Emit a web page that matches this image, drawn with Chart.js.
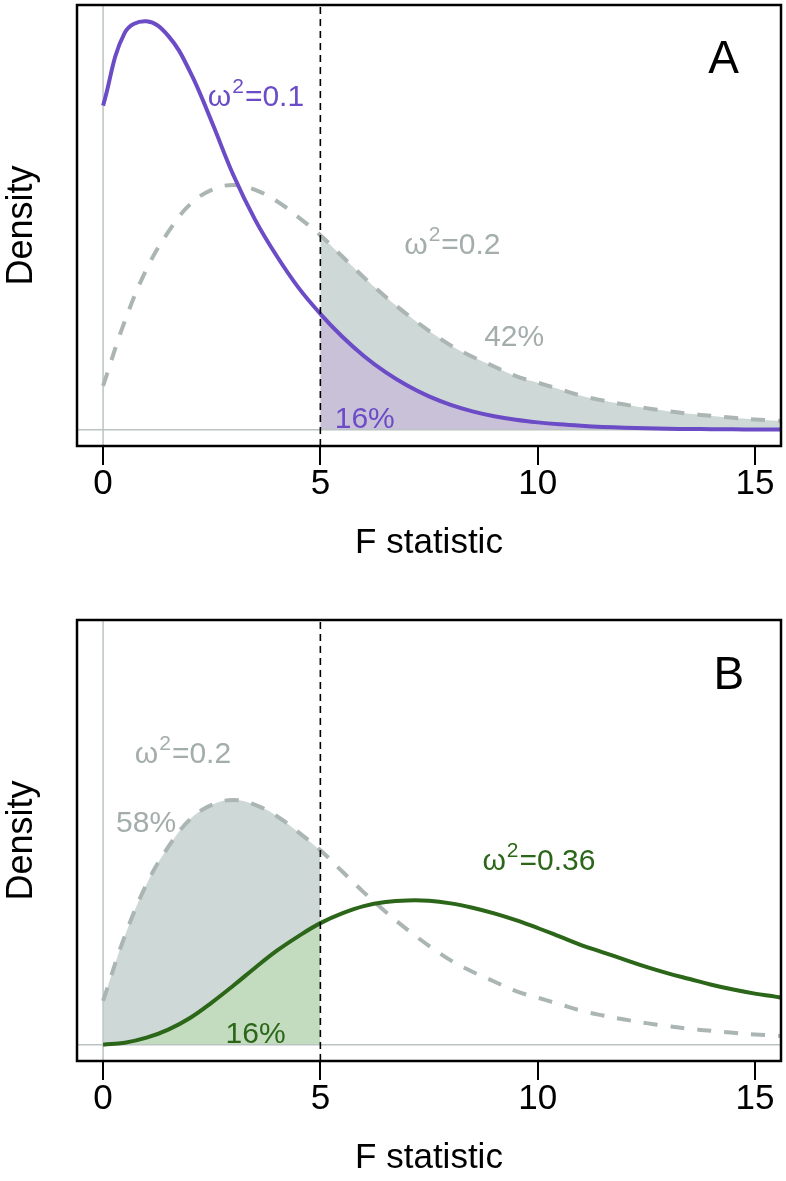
<!DOCTYPE html>
<html>
<head>
<meta charset="utf-8">
<script src="https://cdn.jsdelivr.net/npm/chart.js@4.4.1/dist/chart.umd.min.js"></script>
<style>
  body { margin: 0; background: #fff; }
  canvas { display: block; }
</style>
</head>
<body>
<canvas id="panelA" width="786" height="615"></canvas>
<canvas id="panelB" width="786" height="566"></canvas>
<script>
// densities, on a 0.5 grid of the F statistic
const fGrid = [0, 0.5, 1, 1.5, 2, 2.5, 3, 3.5, 4, 4.5, 5, 5.5, 6, 6.5, 7, 7.5, 8, 8.5, 9, 9.5, 10, 10.5, 11, 11.5, 12, 12.5, 13, 13.5, 14, 14.5, 15, 15.5, 16];

// omega^2 = 0.1 (panel A, solid purple)
const purpleY = [0.200, 0.245, 0.252, 0.243, 0.221, 0.190, 0.157, 0.1295, 0.107, 0.0875, 0.0715, 0.0575, 0.0455, 0.0355, 0.0272, 0.0205, 0.0153, 0.0113, 0.0083, 0.0061, 0.0045, 0.0033, 0.0024, 0.0017, 0.0012, 0.0009, 0.0006, 0.0004, 0.0003, 0.0002, 0.00015, 0.0001, 0.0001];

// omega^2 = 0.2 (both panels, dashed grey)
const grayY = [0.027, 0.067, 0.099, 0.122, 0.139, 0.148, 0.151, 0.148, 0.141, 0.131, 0.120, 0.107, 0.094, 0.082, 0.071, 0.061, 0.052, 0.045, 0.039, 0.033, 0.029, 0.025, 0.021, 0.018, 0.0155, 0.0133, 0.0114, 0.0098, 0.0085, 0.0073, 0.0063, 0.0055, 0.0048];

// omega^2 = 0.36 (panel B, solid green)
const greenY = [0, 0.0012, 0.0043, 0.0093, 0.0165, 0.026, 0.0365, 0.0475, 0.058, 0.067, 0.075, 0.081, 0.0855, 0.088, 0.089, 0.0888, 0.0872, 0.0845, 0.081, 0.0768, 0.072, 0.0668, 0.0615, 0.057, 0.0525, 0.048, 0.044, 0.0405, 0.037, 0.034, 0.0315, 0.0295, 0.027];

const xTicks = [0, 5, 10, 15];
const critical = 5;
const xMin = -0.6, xMax = 15.6;

const FONT = '"Liberation Sans", Arial, sans-serif';
const PURPLE = '#6b4cc6', GREEN = '#2b6619';
const GRAY_LINE = '#abb6b4', GRAY_TEXT = '#a3adab', REF = '#bac4c2';
const GRAY_FILL = '#ced8d6', PURPLE_FILL = '#c9c1d8', GREEN_FILL = '#c3dcc0';

const peak = Math.max(...purpleY);
const yMin = -0.04 * peak, yMax = 1.04 * peak;

function pts(ys, keep) {
  return fGrid.map((x, i) => ({ x, y: ys[i] })).filter(p => !keep || keep(p.x));
}

function curve(data, color, dash, order) {
  return { data, borderColor: color, borderWidth: 4, borderDash: dash || [], pointRadius: 0,
           fill: false, tension: 0.4, order };
}
function area(data, color, order) {
  return { data, borderWidth: 0, backgroundColor: color, pointRadius: 0, fill: 'origin',
           tension: 0.4, order };
}
function rule(data, color, width, dash, order) {
  return { data, borderColor: color, borderWidth: width, borderDash: dash || [], pointRadius: 0,
           fill: false, tension: 0, order };
}

function omegaLabel(ctx, x, y, value, color, size) {
  ctx.fillStyle = color;
  ctx.textAlign = 'left';
  ctx.textBaseline = 'alphabetic';
  ctx.font = size + 'px ' + FONT;
  ctx.fillText('ω', x, y);
  let w = ctx.measureText('ω').width + 1;
  ctx.font = Math.round(size * 0.7) + 'px ' + FONT;
  ctx.fillText('2', x + w, y - size * 0.42);
  w += ctx.measureText('2').width + 1;
  ctx.font = size + 'px ' + FONT;
  ctx.fillText('=' + value, x + w, y);
}

const panelDecor = {
  id: 'panelDecor',
  afterDatasetsDraw(chart, args, opts) {
    const { ctx, chartArea: a, scales: { x, y } } = chart;
    ctx.save();
    for (const t of opts.labels) {
      const px = x.getPixelForValue(t.x), py = y.getPixelForValue(t.y);
      if (t.omega) {
        omegaLabel(ctx, px, py, t.omega, t.color, t.size);
      } else {
        ctx.fillStyle = t.color;
        ctx.font = t.size + 'px ' + FONT;
        ctx.textAlign = t.align || 'left';
        ctx.textBaseline = 'alphabetic';
        ctx.fillText(t.text, px, py);
      }
    }
    ctx.strokeStyle = '#000';
    ctx.lineWidth = 2.5;
    ctx.strokeRect(a.left, a.top, a.width, a.height);
    ctx.restore();
  }
};

function makePanel(id, datasets, labels) {
  const canvas = document.getElementById(id);
  return new Chart(canvas, {
    type: 'line',
    data: { datasets },
    options: {
      responsive: false,
      animation: false,
      events: [],
      layout: { padding: { top: 5, right: 5, left: 0, bottom: canvas.height - 564 } },
      plugins: { legend: { display: false }, tooltip: { enabled: false }, panelDecor: { labels } },
      scales: {
        x: {
          type: 'linear', min: xMin, max: xMax,
          afterBuildTicks: s => { s.ticks = xTicks.map(v => ({ value: v })); },
          afterFit: s => { s.height = 118; },
          ticks: { color: '#000', font: { family: FONT, size: 35, lineHeight: 1 }, padding: 1.5, maxRotation: 0, autoSkip: false },
          grid: { drawOnChartArea: false, drawTicks: true, tickLength: 19, color: '#000', lineWidth: 2 },
          border: { display: false },
          title: { display: true, text: 'F statistic', color: '#000', font: { family: FONT, size: 35 }, padding: 0 }
        },
        y: {
          min: yMin, max: yMax,
          afterFit: s => { s.width = 77; },
          ticks: { display: false },
          grid: { display: false },
          border: { display: false },
          title: { display: true, text: 'Density', color: '#000', font: { family: FONT, size: 36 }, padding: 0 }
        }
      }
    },
    plugins: [panelDecor]
  });
}

const axisLines = [
  rule([{ x: 0, y: yMin }, { x: 0, y: yMax }], REF, 1.5, null, 6),
  rule([{ x: xMin, y: 0 }, { x: xMax, y: 0 }], REF, 1.5, null, 6),
  rule([{ x: critical, y: yMin }, { x: critical, y: yMax }], '#000', 1.6, [7, 5], 1)
];

makePanel('panelA', [
  area(pts(grayY, x => x >= critical), GRAY_FILL, 10),
  area(pts(purpleY, x => x >= critical), PURPLE_FILL, 9),
  ...axisLines,
  curve(pts(grayY), GRAY_LINE, [14, 13], 3),
  curve(pts(purpleY), PURPLE, null, 2)
], [
  { omega: '0.1', x: 2.41, y: 0.200, color: PURPLE, size: 30 },
  { omega: '0.2', x: 6.93, y: 0.1085, color: GRAY_TEXT, size: 30 },
  { text: '42%', x: 8.77, y: 0.0515, color: GRAY_TEXT, size: 30 },
  { text: '16%', x: 5.33, y: 0.0012, color: PURPLE, size: 30 },
  { text: 'A', x: 14.28, y: 0.220, color: '#000', size: 46, align: 'center' }
]);

makePanel('panelB', [
  area(pts(grayY, x => x <= critical), GRAY_FILL, 10),
  area(pts(greenY, x => x <= critical), GREEN_FILL, 9),
  ...axisLines,
  curve(pts(grayY), GRAY_LINE, [14, 13], 3),
  curve(pts(greenY), GREEN, null, 2)
], [
  { omega: '0.2', x: 0.73, y: 0.174, color: GRAY_TEXT, size: 30 },
  { text: '58%', x: 0.30, y: 0.131, color: GRAY_TEXT, size: 30 },
  { omega: '0.36', x: 8.73, y: 0.108, color: GREEN, size: 30 },
  { text: '16%', x: 2.82, y: 0.0012, color: GREEN, size: 30 },
  { text: 'B', x: 14.40, y: 0.2195, color: '#000', size: 46, align: 'center' }
]);
</script>
</body>
</html>
